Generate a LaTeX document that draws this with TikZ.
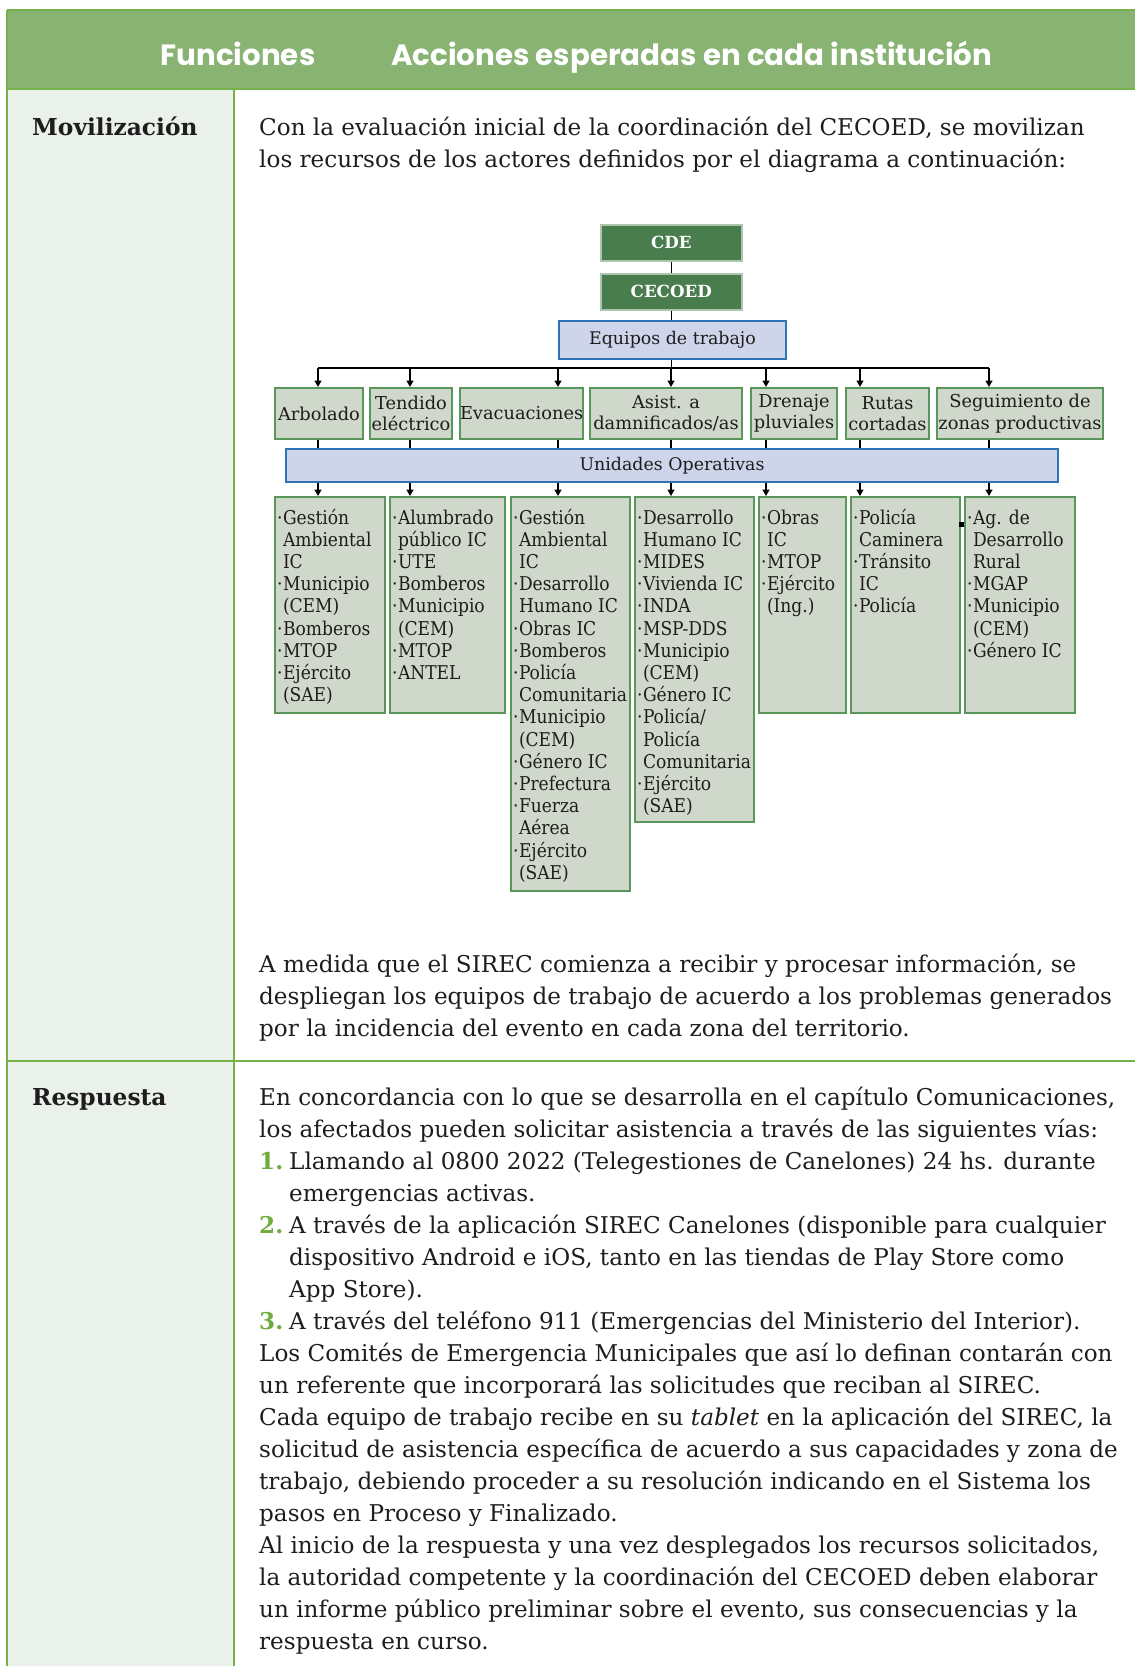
\documentclass[tikz,border=0pt]{standalone}
\usepackage{fontspec}
\setmainfont{DejaVu Serif}[BoldFont={DejaVu Serif Bold},ItalicFont={DejaVu Serif Italic}]
\newfontfamily\boxfont{DejaVu Serif Condensed}
\newfontfamily\headfont{Poppins}
\usetikzlibrary{arrows.meta}

\definecolor{headgreen}{RGB}{137,179,115}
\definecolor{linegreen}{RGB}{118,178,74}
\definecolor{leftbg}{RGB}{234,241,234}
\definecolor{darkgreen}{RGB}{74,125,77}
\definecolor{boxfill}{RGB}{207,216,203}
\definecolor{boxline}{RGB}{88,150,90}
\definecolor{bluefill}{RGB}{206,213,234}
\definecolor{blueline}{RGB}{46,116,181}
\definecolor{numgreen}{RGB}{112,171,64}
\definecolor{ink}{RGB}{30,28,28}

\newcommand{\bul}{\makebox[6pt][l]{·}}
\newcommand{\ind}{\hspace*{6pt}}
\newcommand{\num}[1]{\makebox[30pt][l]{\textbf{\color{numgreen}#1}}}
\newcommand{\nind}{\hspace*{30pt}}
\newcommand{\ulist}[3]{\parbox[t][#1][t]{#2}{\rule{0pt}{27pt}\begin{tabular}[t]{@{}l@{}}#3\end{tabular}}}

\begin{document}
\begin{tikzpicture}[x=1pt, y=-1pt,
    tline/.style={linegreen, line width=2pt},
    headtext/.style={font=\headfont\bfseries\fontsize{29.3}{32}\selectfont, text=white, inner sep=0pt},
    body/.style={font=\fontsize{23.1}{32}\selectfont, text=ink, inner sep=0pt, anchor=base west},
    rowlabel/.style={font=\bfseries\fontsize{23.3}{32}\selectfont, text=ink, inner sep=0pt, anchor=base west},
    gbox/.style={draw=darkgreen!45, fill=darkgreen, text=white, line width=1.5pt, inner sep=0pt,
        minimum width=141pt, minimum height=36pt, anchor=north west, font=\bfseries\fontsize{16.7}{20}\selectfont},
    bbox/.style={draw=blueline, fill=bluefill, text=ink, line width=2pt, inner sep=0pt,
        anchor=north west, font=\fontsize{17.4}{21}\selectfont},
    tbox/.style={draw=boxline, fill=boxfill, text=ink, line width=2pt, inner sep=0pt, align=center,
        minimum height=51pt, anchor=north west, font=\fontsize{17.8}{21.5}\selectfont},
    ubox/.style={draw=boxline, fill=boxfill, text=ink, line width=2pt, inner xsep=2pt, inner ysep=0pt,
        anchor=north west, font=\boxfont\fontsize{19}{22.2}\selectfont},
    arr/.style={-{Triangle[length=6.5pt,width=7pt]}, line width=1.5pt},
    link/.style={line width=1.5pt}]

    \useasboundingbox (0,0) rectangle (1135,1666);

    % table
    \fill[headgreen] (7,10) rectangle (1135,89);
    \fill[leftbg] (7,89) rectangle (234,1666);
    \draw[tline] (7,10) -- (1135,10);
    \draw[tline] (7,10) -- (7,1666);
    \draw[tline] (7,89) -- (1135,89);
    \draw[tline] (234,89) -- (234,1666);
    \draw[tline] (7,1061) -- (1135,1061);

    \node[headtext, anchor=base] (hfun) at (238,65) {Funciones};
    \node[headtext, anchor=base west] (hacc) at (391,65) {Acciones esperadas en cada institución};

    \node[rowlabel] (fmov) at (32,135) {Movilización};
    \node[body] (pmov) at (259,135) {\parbox[t]{900pt}{Con la evaluación inicial de la coordinación del CECOED, se movilizan\\
        los recursos de los actores definidos por el diagrama a continuación:}};

    % diagrama
    \node[gbox] (cde) at (600,224) {CDE};
    \node[gbox] (cecoed) at (600,273) {CECOED};
    \node[bbox, minimum width=227pt, minimum height=38pt] (equipos) at (558,320) {Equipos de trabajo};

    \node[tbox, minimum width=88pt] (arb) at (274,387) {Arbolado};
    \node[tbox, minimum width=82pt] (ten) at (369,387) {Tendido\\eléctrico};
    \node[tbox, minimum width=123pt] (eva) at (459,387) {Evacuaciones};
    \node[tbox, minimum width=152pt] (asi) at (589,387) {Asist. a\\damnificados/as};
    \node[tbox, minimum width=86pt] (dre) at (750,387) {Drenaje\\pluviales};
    \node[tbox, minimum width=83pt] (rut) at (845,387) {Rutas\\cortadas};
    \node[tbox, minimum width=166pt] (seg) at (936,387) {Seguimiento de\\zonas productivas};

    \node[bbox, minimum width=772pt, minimum height=33pt] (uo) at (285,448) {Unidades Operativas};

    \node[ubox] (uarb) at (274,496) {\ulist{216pt}{106pt}{\bul Gestión\\ \ind Ambiental\\ \ind IC\\ \bul Municipio\\ \ind (CEM)\\
        \bul Bomberos\\ \bul MTOP\\ \bul Ejército\\ \ind (SAE)}};
    \node[ubox] (uten) at (389,496) {\ulist{216pt}{111pt}{\bul Alumbrado\\ \ind público IC\\ \bul UTE\\ \bul Bomberos\\ \bul Municipio\\
        \ind (CEM)\\ \bul MTOP\\ \bul ANTEL}};
    \node[ubox] (ueva) at (510,496) {\ulist{394pt}{115pt}{\bul Gestión\\ \ind Ambiental\\ \ind IC\\ \bul Desarrollo\\ \ind Humano IC\\
        \bul Obras IC\\ \bul Bomberos\\ \bul Policía\\ \ind Comunitaria\\ \bul Municipio\\ \ind (CEM)\\ \bul Género IC\\
        \bul Prefectura\\ \bul Fuerza\\ \ind Aérea\\ \bul Ejército\\ \ind (SAE)}};
    \node[ubox] (uasi) at (634,496) {\ulist{325pt}{115pt}{\bul Desarrollo\\ \ind Humano IC\\ \bul MIDES\\ \bul Vivienda IC\\ \bul INDA\\
        \bul MSP-DDS\\ \bul Municipio\\ \ind (CEM)\\ \bul Género IC\\ \bul Policía/\\ \ind Policía\\ \ind Comunitaria\\
        \bul Ejército\\ \ind (SAE)}};
    \node[ubox] (udre) at (758,496) {\ulist{216pt}{83pt}{\bul Obras\\ \ind IC\\ \bul MTOP\\ \bul Ejército\\ \ind (Ing.)}};
    \node[ubox] (urut) at (850,496) {\ulist{216pt}{105pt}{\bul Policía\\ \ind Caminera\\ \bul Tránsito\\ \ind IC\\ \bul Policía}};
    \node[ubox] (useg) at (964,496) {\ulist{216pt}{106pt}{\bul Ag. de\\ \ind Desarrollo\\ \ind Rural\\ \bul MGAP\\ \bul Municipio\\
        \ind (CEM)\\ \bul Género IC}};
    \fill (959,522) rectangle (964,527);

    \draw[link] (cde.south) -- (cde.south |- cecoed.north);
    \draw[link] (cecoed.south) -- (cecoed.south |- equipos.north);
    \coordinate (busl) at (318,368);
    \coordinate (busr) at (989,368);
    \draw[link] (cecoed.south |- equipos.south) -- (cecoed.south |- busl);
    \draw[link] (busl) -- (busr);

    \foreach \t/\x in {arb/318, ten/410, eva/558, asi/671, dre/766, rut/860, seg/989} {
        \coordinate (x\t) at (\x,368);
        \draw[arr] (x\t) -- (x\t |- \t.north);
        \draw[link] (x\t |- \t.south) -- (x\t |- uo.north);
        \draw[arr] (x\t |- uo.south) -- (x\t |- u\t.north);
    }

    \node[body] (pdes) at (259,972) {\parbox[t]{900pt}{A medida que el SIREC comienza a recibir y procesar información, se\\
        despliegan los equipos de trabajo de acuerdo a los problemas generados\\
        por la incidencia del evento en cada zona del territorio.}};

    % respuesta
    \node[rowlabel] (fres) at (32,1105) {Respuesta};
    \node[body] (pres) at (259,1105) {\parbox[t]{900pt}{En concordancia con lo que se desarrolla en el capítulo Comunicaciones,\\
        los afectados pueden solicitar asistencia a través de las siguientes vías:\\
        \num{1.}Llamando al 0800 2022 (Telegestiones de Canelones) 24 hs. durante\\
        \nind emergencias activas.\\
        \num{2.}A través de la aplicación SIREC Canelones (disponible para cualquier\\
        \nind dispositivo Android e iOS, tanto en las tiendas de Play Store como\\
        \nind App Store).\\
        \num{3.}A través del teléfono 911 (Emergencias del Ministerio del Interior).\\
        Los Comités de Emergencia Municipales que así lo definan contarán con\\
        un referente que incorporará las solicitudes que reciban al SIREC.\\
        Cada equipo de trabajo recibe en su \emph{tablet} en la aplicación del SIREC, la\\
        solicitud de asistencia específica de acuerdo a sus capacidades y zona de\\
        trabajo, debiendo proceder a su resolución indicando en el Sistema los\\
        pasos en Proceso y Finalizado.\\
        Al inicio de la respuesta y una vez desplegados los recursos solicitados,\\
        la autoridad competente y la coordinación del CECOED deben elaborar\\
        un informe público preliminar sobre el evento, sus consecuencias y la\\
        respuesta en curso.}};

\end{tikzpicture}
\end{document}
